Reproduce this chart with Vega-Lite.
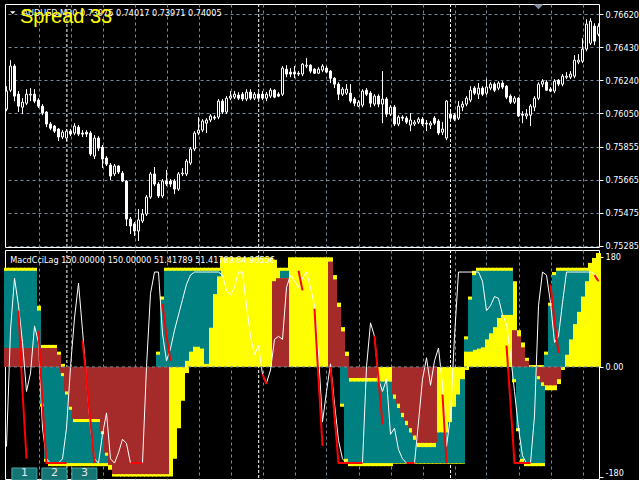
{
"$schema": "https://vega.github.io/schema/vega-lite/v6.json",
"background": "#000000",
"padding": {"left": 3, "top": 3, "right": 0, "bottom": 0},
"bounds": "flush",
"spacing": 3,
"config": {
  "view": {"stroke": "#ffffff", "strokeWidth": 1},
  "scale": {"continuousPadding": 0},
  "axis": {"labelFont": "DejaVu Sans Condensed, DejaVu Sans, sans-serif", "labelFontSize": 9, "labelColor": "#ffffff", "tickColor": "#ffffff", "domain": false, "title": null, "gridColor": "#778899", "gridDash": [3, 3], "gridWidth": 1, "gridOpacity": 1, "labelOverlap": false}
},
"datasets": {
"sep": [{"s": 16.1}, {"s": 64.05}, {"s": 112}],
"btn": [{"t": "1", "x1": 2.35, "x2": 8.6, "xm": 5.5}, {"t": "2", "x1": 9.85, "x2": 16.1, "xm": 13}, {"t": "3", "x1": 17.35, "x2": 23.6, "xm": 20.5}],
"d": [
{"i":1,"o":0.76073,"c":0.76177,"h":0.76205,"l":0.76061,"yl":0,"yh":162,"ta":31,"tb":157,"ba":0,"bb":31,"w":-130},
{"i":2,"o":0.76182,"c":0.76321,"h":0.76355,"l":0.76171,"yl":0,"yh":162,"ta":31,"tb":157,"ba":0,"bb":31,"w":60},
{"i":3,"o":0.76321,"c":0.76148,"h":0.76332,"l":0.76119,"yl":0,"yh":162,"ta":31,"tb":157,"ba":0,"bb":31,"w":145},
{"i":4,"o":0.76159,"c":0.76090,"h":0.76177,"l":0.76056,"yl":0,"yh":162,"ta":31,"tb":157,"ba":0,"bb":31,"w":100,"r":92},
{"i":5,"o":0.76084,"c":0.76113,"h":0.76136,"l":0.76044,"yl":0,"yh":162,"ta":31,"tb":157,"ba":0,"bb":31,"w":40,"r":-40},
{"i":6,"o":0.76107,"c":0.76159,"h":0.76188,"l":0.76096,"yl":0,"yh":162,"ta":31,"tb":157,"ba":0,"bb":31,"w":-40,"r":-150},
{"i":7,"o":0.76154,"c":0.76159,"h":0.76194,"l":0.76119,"yl":0,"yh":162,"ta":31,"tb":157,"ba":0,"bb":31,"w":-10},
{"i":8,"o":0.76159,"c":0.76119,"h":0.76188,"l":0.76107,"yl":0,"yh":162,"ta":31,"tb":157,"ba":0,"bb":31,"w":67},
{"i":9,"o":0.76125,"c":0.76090,"h":0.76136,"l":0.76079,"yl":0,"yh":100,"ta":31,"tb":92,"ba":0,"bb":31,"w":40,"r":59},
{"i":10,"o":0.76090,"c":0.76050,"h":0.76102,"l":0.76038,"yl":-65,"yh":36,"ba":0,"bb":31,"tc":-60,"td":0,"w":-100,"r":-60},
{"i":11,"o":0.76056,"c":0.75987,"h":0.76061,"l":0.75969,"yl":-155,"yh":36,"ba":0,"bb":31,"tc":-150,"td":0,"w":-150,"r":-157},
{"i":12,"o":0.75987,"c":0.75963,"h":0.75998,"l":0.75952,"yl":-162,"yh":36,"ba":0,"bb":31,"tc":-157,"td":0,"w":-157,"r":-157},
{"i":13,"o":0.75975,"c":0.75946,"h":0.75981,"l":0.75935,"yl":-162,"yh":36,"ba":0,"bb":31,"tc":-157,"td":0,"w":-157,"r":-157},
{"i":14,"o":0.75958,"c":0.75912,"h":0.75963,"l":0.75889,"yl":-162,"yh":25,"ba":0,"bb":20,"tc":-157,"td":0,"w":-157,"r":-157},
{"i":15,"o":0.75912,"c":0.75940,"h":0.75952,"l":0.75900,"yl":-162,"yh":5,"bc":-10,"bd":0,"tc":-157,"td":-15,"w":-150,"r":-157},
{"i":16,"o":0.75906,"c":0.75946,"h":0.75958,"l":0.75889,"yl":-162,"yh":0,"bc":-40,"bd":0,"tc":-157,"td":-45,"w":-100,"r":-157},
{"i":17,"o":0.75946,"c":0.75929,"h":0.75958,"l":0.75917,"yl":-162,"yh":0,"bc":-65,"bd":0,"tc":-157,"td":-70,"w":0},
{"i":18,"o":0.75935,"c":0.75975,"h":0.75992,"l":0.75923,"yl":-162,"yh":0,"bc":-85,"bd":0,"tc":-157,"td":-90,"w":80},
{"i":19,"o":0.75969,"c":0.75929,"h":0.75981,"l":0.75917,"yl":-162,"yh":0,"bc":-85,"bd":0,"tc":-157,"td":-90,"w":137},
{"i":20,"o":0.75935,"c":0.75929,"h":0.75952,"l":0.75912,"yl":-162,"yh":0,"bc":-85,"bd":0,"tc":-157,"td":-90,"w":60,"r":43},
{"i":21,"o":0.75940,"c":0.75929,"h":0.75952,"l":0.75912,"yl":-162,"yh":0,"bc":-85,"bd":0,"tc":-157,"td":-90,"w":-20,"r":-20},
{"i":22,"o":0.75935,"c":0.75814,"h":0.75946,"l":0.75802,"yl":-162,"yh":0,"bc":-85,"bd":0,"tc":-157,"td":-90,"w":-100,"r":-90},
{"i":23,"o":0.75802,"c":0.75906,"h":0.75923,"l":0.75785,"yl":-162,"yh":0,"bc":-85,"bd":0,"tc":-157,"td":-90,"w":-150,"r":-157},
{"i":24,"o":0.75906,"c":0.75848,"h":0.75917,"l":0.75831,"yl":-162,"yh":0,"bc":-85,"bd":0,"tc":-157,"td":-90,"w":-157},
{"i":25,"o":0.75854,"c":0.75785,"h":0.75866,"l":0.75733,"yl":-162,"yh":0,"bc":-105,"bd":0,"tc":-157,"td":-110,"w":-110},
{"i":26,"o":0.75791,"c":0.75756,"h":0.75802,"l":0.75745,"yl":-162,"yh":0,"bc":-140,"bd":0,"tc":-157,"td":-145,"w":-75},
{"i":27,"o":0.75750,"c":0.75687,"h":0.75762,"l":0.75664,"yl":-168,"yh":0,"bc":-160,"bd":0,"w":-150},
{"i":28,"o":0.75699,"c":0.75745,"h":0.75756,"l":0.75687,"yl":-179,"yh":0,"bc":-175,"bd":0,"w":-157},
{"i":29,"o":0.75745,"c":0.75710,"h":0.75750,"l":0.75699,"yl":-179,"yh":0,"bc":-175,"bd":0,"w":-140},
{"i":30,"o":0.75704,"c":0.75658,"h":0.75716,"l":0.75652,"yl":-179,"yh":0,"bc":-175,"bd":0,"w":-118},
{"i":31,"o":0.75658,"c":0.75439,"h":0.75664,"l":0.75399,"yl":-179,"yh":0,"bc":-175,"bd":0,"w":-125},
{"i":32,"o":0.75439,"c":0.75399,"h":0.75451,"l":0.75353,"yl":-179,"yh":0,"bc":-175,"bd":0,"w":-157,"r":-157},
{"i":33,"o":0.75411,"c":0.75370,"h":0.75422,"l":0.75341,"yl":-179,"yh":0,"bc":-175,"bd":0,"w":-157,"r":-157},
{"i":34,"o":0.75370,"c":0.75434,"h":0.75497,"l":0.75313,"yl":-179,"yh":0,"bc":-175,"bd":0,"w":-157,"r":-157},
{"i":35,"o":0.75428,"c":0.75468,"h":0.75497,"l":0.75416,"yl":-179,"yh":0,"bc":-175,"bd":0,"w":-157,"r":-157},
{"i":36,"o":0.75468,"c":0.75566,"h":0.75578,"l":0.75457,"yl":-179,"yh":0,"bc":-175,"bd":0,"w":0},
{"i":37,"o":0.75566,"c":0.75699,"h":0.75710,"l":0.75555,"yl":-179,"yh":0,"bc":-175,"bd":0,"w":120},
{"i":38,"o":0.75699,"c":0.75641,"h":0.75739,"l":0.75629,"yl":-179,"yh":0,"bc":-175,"bd":0,"w":155},
{"i":39,"o":0.75641,"c":0.75572,"h":0.75652,"l":0.75560,"yl":-179,"yh":25,"bc":-175,"bd":0,"ta":0,"tb":20,"w":155},
{"i":40,"o":0.75572,"c":0.75658,"h":0.75670,"l":0.75560,"yl":-179,"yh":115,"bc":-175,"bd":0,"ta":0,"tb":110,"w":54,"r":103},
{"i":41,"o":0.75658,"c":0.75641,"h":0.75722,"l":0.75629,"yl":-179,"yh":162,"bc":-175,"bd":0,"ta":0,"tb":157,"w":10,"r":50},
{"i":42,"o":0.75658,"c":0.75641,"h":0.75670,"l":0.75624,"yl":-179,"yh":162,"ta":0,"tb":157,"w":30,"r":10},
{"i":43,"o":0.75658,"c":0.75612,"h":0.75670,"l":0.75583,"yl":-150,"yh":162,"ta":0,"tb":157,"w":60},
{"i":44,"o":0.75612,"c":0.75699,"h":0.75710,"l":0.75601,"yl":-100,"yh":162,"ta":0,"tb":157,"w":85},
{"i":45,"o":0.75699,"c":0.75704,"h":0.75733,"l":0.75687,"yl":-55,"yh":162,"ta":0,"tb":157,"w":110},
{"i":46,"o":0.75699,"c":0.75773,"h":0.75785,"l":0.75687,"yl":-10,"yh":162,"ta":10,"tb":157,"w":135},
{"i":47,"o":0.75762,"c":0.75843,"h":0.75854,"l":0.75750,"yl":0,"yh":162,"ta":25,"tb":157,"w":150},
{"i":48,"o":0.75843,"c":0.75935,"h":0.75946,"l":0.75831,"yl":0,"yh":162,"ta":33,"tb":157,"w":155},
{"i":49,"o":0.75935,"c":0.75952,"h":0.76027,"l":0.75923,"yl":0,"yh":162,"ta":33,"tb":157,"w":155},
{"i":50,"o":0.75952,"c":0.76004,"h":0.76015,"l":0.75940,"yl":0,"yh":162,"ta":30,"tb":157,"w":155},
{"i":51,"o":0.75992,"c":0.76010,"h":0.76021,"l":0.75935,"yl":0,"yh":162,"ta":5,"tb":157,"w":155},
{"i":52,"o":0.76010,"c":0.76033,"h":0.76044,"l":0.75998,"yl":0,"yh":162,"ta":64,"tb":157,"w":155},
{"i":53,"o":0.76027,"c":0.76021,"h":0.76038,"l":0.76010,"yl":0,"yh":162,"ta":119,"tb":157,"w":155},
{"i":54,"o":0.76027,"c":0.76119,"h":0.76131,"l":0.76015,"yl":0,"yh":162,"ta":148,"tb":157,"w":155},
{"i":55,"o":0.76119,"c":0.76056,"h":0.76131,"l":0.76044,"yl":0,"yh":179,"w":150},
{"i":56,"o":0.76056,"c":0.76136,"h":0.76148,"l":0.76044,"yl":0,"yh":179,"w":125},
{"i":57,"o":0.76136,"c":0.76148,"h":0.76177,"l":0.76125,"yl":0,"yh":179,"w":118},
{"i":58,"o":0.76142,"c":0.76159,"h":0.76177,"l":0.76131,"yl":0,"yh":179,"w":130},
{"i":59,"o":0.76154,"c":0.76136,"h":0.76171,"l":0.76125,"yl":0,"yh":179,"w":155},
{"i":60,"o":0.76159,"c":0.76131,"h":0.76171,"l":0.76119,"yl":0,"yh":179,"w":155},
{"i":61,"o":0.76131,"c":0.76171,"h":0.76188,"l":0.76119,"yl":0,"yh":179,"w":100},
{"i":62,"o":0.76171,"c":0.76136,"h":0.76188,"l":0.76125,"yl":0,"yh":179,"w":50},
{"i":63,"o":0.76136,"c":0.76159,"h":0.76171,"l":0.76125,"yl":0,"yh":179,"w":20},
{"i":64,"o":0.76159,"c":0.76136,"h":0.76171,"l":0.76125,"yl":0,"yh":179,"w":35},
{"i":65,"o":0.76159,"c":0.76136,"h":0.76177,"l":0.76125,"yl":0,"yh":179,"w":-12,"r":-12},
{"i":66,"o":0.76136,"c":0.76159,"h":0.76171,"l":0.76119,"yl":0,"yh":179,"w":-26,"r":-28},
{"i":67,"o":0.76148,"c":0.76182,"h":0.76194,"l":0.76136,"yl":0,"yh":179,"w":-5},
{"i":68,"o":0.76182,"c":0.76142,"h":0.76188,"l":0.76136,"yl":0,"yh":175,"ba":0,"bb":140,"w":45},
{"i":69,"o":0.76159,"c":0.76148,"h":0.76171,"l":0.76142,"yl":0,"yh":162,"ba":0,"bb":145,"w":50},
{"i":70,"o":0.76159,"c":0.76309,"h":0.76321,"l":0.76148,"yl":0,"yh":162,"ta":145,"tb":157,"ba":0,"bb":145,"w":45},
{"i":71,"o":0.76303,"c":0.76275,"h":0.76326,"l":0.76257,"yl":0,"yh":162,"ta":145,"tb":157,"ba":0,"bb":145,"w":130},
{"i":72,"o":0.76286,"c":0.76275,"h":0.76309,"l":0.76257,"yl":0,"yh":179,"w":150},
{"i":73,"o":0.76286,"c":0.76275,"h":0.76321,"l":0.76251,"yl":0,"yh":179,"w":140},
{"i":74,"o":0.76280,"c":0.76275,"h":0.76292,"l":0.76263,"yl":0,"yh":179,"w":130,"r":157},
{"i":75,"o":0.76275,"c":0.76332,"h":0.76338,"l":0.76263,"yl":0,"yh":179,"w":145,"r":125},
{"i":76,"o":0.76321,"c":0.76326,"h":0.76367,"l":0.76309,"yl":0,"yh":179,"w":155},
{"i":77,"o":0.76326,"c":0.76292,"h":0.76332,"l":0.76280,"yl":0,"yh":179,"w":130},
{"i":78,"o":0.76303,"c":0.76280,"h":0.76309,"l":0.76275,"yl":0,"yh":179,"w":100,"r":95},
{"i":79,"o":0.76280,"c":0.76303,"h":0.76315,"l":0.76275,"yl":0,"yh":179,"w":20,"r":-20},
{"i":80,"o":0.76298,"c":0.76321,"h":0.76332,"l":0.76286,"yl":0,"yh":179,"w":-90,"r":-129},
{"i":81,"o":0.76309,"c":0.76286,"h":0.76321,"l":0.76280,"yl":0,"yh":179,"w":-40},
{"i":82,"o":0.76292,"c":0.76251,"h":0.76298,"l":0.76223,"yl":0,"yh":179,"ba":0,"bb":172,"w":5,"r":0},
{"i":83,"o":0.76251,"c":0.76217,"h":0.76257,"l":0.76194,"yl":0,"yh":150,"ba":0,"bb":143,"w":-60,"r":-80},
{"i":84,"o":0.76217,"c":0.76159,"h":0.76228,"l":0.76125,"yl":0,"yh":105,"ba":0,"bb":98,"w":-120,"r":-157},
{"i":85,"o":0.76159,"c":0.76188,"h":0.76200,"l":0.76148,"yl":-65,"yh":65,"ba":0,"bb":58,"tc":-60,"td":0,"w":-150,"r":-157},
{"i":86,"o":0.76165,"c":0.76188,"h":0.76217,"l":0.76154,"yl":-155,"yh":25,"ba":0,"bb":18,"tc":-150,"td":0,"w":-157,"r":-157},
{"i":87,"o":0.76165,"c":0.76119,"h":0.76217,"l":0.76107,"yl":-162,"yh":0,"bc":-18,"bd":0,"tc":-157,"td":-24,"w":-157,"r":-157},
{"i":88,"o":0.76131,"c":0.76107,"h":0.76142,"l":0.76090,"yl":-162,"yh":0,"bc":-18,"bd":0,"tc":-157,"td":-24,"w":-157,"r":-157},
{"i":89,"o":0.76090,"c":0.76113,"h":0.76125,"l":0.76084,"yl":-162,"yh":0,"bc":-18,"bd":0,"tc":-157,"td":-24,"w":-157,"r":-157},
{"i":90,"o":0.76096,"c":0.76177,"h":0.76188,"l":0.76084,"yl":-162,"yh":0,"bc":-18,"bd":0,"tc":-157,"td":-24,"w":-157,"r":-157},
{"i":91,"o":0.76182,"c":0.76159,"h":0.76194,"l":0.76148,"yl":-162,"yh":0,"bc":-18,"bd":0,"tc":-157,"td":-24,"w":0},
{"i":92,"o":0.76165,"c":0.76107,"h":0.76177,"l":0.76084,"yl":-162,"yh":0,"bc":-18,"bd":0,"tc":-157,"td":-24,"w":72},
{"i":93,"o":0.76102,"c":0.76148,"h":0.76159,"l":0.76090,"yl":-162,"yh":0,"bc":-18,"bd":0,"tc":-157,"td":-24,"w":50,"r":51},
{"i":94,"o":0.76148,"c":0.76102,"h":0.76159,"l":0.76084,"yl":-162,"yh":0,"tc":-157,"td":-24,"w":-20,"r":-20},
{"i":95,"o":0.76102,"c":0.76131,"h":0.76292,"l":0.75992,"yl":-162,"yh":0,"tc":-157,"td":-24,"w":-40,"r":-94},
{"i":96,"o":0.76131,"c":0.76044,"h":0.76142,"l":0.76027,"yl":-162,"yh":0,"tc":-157,"td":-24,"w":-20},
{"i":97,"o":0.76044,"c":0.76084,"h":0.76096,"l":0.76033,"yl":-162,"yh":0,"tc":-157,"td":-24,"w":-110},
{"i":98,"o":0.76084,"c":0.75987,"h":0.76096,"l":0.75975,"yl":-158,"yh":0,"bc":-45,"bd":0,"tc":-157,"td":-52,"w":-100},
{"i":99,"o":0.75987,"c":0.76027,"h":0.76038,"l":0.75975,"yl":-158,"yh":0,"bc":-60,"bd":0,"tc":-157,"td":-67,"w":-135},
{"i":100,"o":0.76027,"c":0.76021,"h":0.76038,"l":0.76004,"yl":-158,"yh":0,"bc":-75,"bd":0,"tc":-157,"td":-82,"w":-150},
{"i":101,"o":0.76021,"c":0.75998,"h":0.76033,"l":0.75987,"yl":-158,"yh":0,"bc":-88,"bd":0,"tc":-157,"td":-95,"w":-157,"r":-157},
{"i":102,"o":0.75981,"c":0.76010,"h":0.76050,"l":0.75946,"yl":-158,"yh":0,"bc":-100,"bd":0,"tc":-157,"td":-107,"w":-157,"r":-157},
{"i":103,"o":0.75987,"c":0.75998,"h":0.76010,"l":0.75975,"yl":-158,"yh":0,"bc":-112,"bd":0,"tc":-157,"td":-119,"w":-157,"r":-157},
{"i":104,"o":0.75998,"c":0.76015,"h":0.76027,"l":0.75987,"yl":-158,"yh":0,"bc":-124,"bd":0,"tc":-157,"td":-131,"w":-90},
{"i":105,"o":0.76015,"c":0.75987,"h":0.76027,"l":0.75975,"yl":-158,"yh":0,"bc":-124,"bd":0,"tc":-157,"td":-131,"w":-20},
{"i":106,"o":0.75992,"c":0.75987,"h":0.76010,"l":0.75946,"yl":-158,"yh":0,"bc":-124,"bd":0,"tc":-157,"td":-131,"w":15},
{"i":107,"o":0.75981,"c":0.75992,"h":0.76004,"l":0.75958,"yl":-158,"yh":0,"bc":-124,"bd":0,"tc":-157,"td":-131,"w":-30},
{"i":108,"o":0.76021,"c":0.75992,"h":0.76033,"l":0.75981,"yl":-158,"yh":0,"bc":-124,"bd":0,"tc":-157,"td":-131,"w":10},
{"i":109,"o":0.76004,"c":0.75935,"h":0.76015,"l":0.75923,"yl":-158,"yh":0,"tc":-157,"td":-107,"w":31},
{"i":110,"o":0.75940,"c":0.75958,"h":0.75998,"l":0.75923,"yl":-158,"yh":0,"tc":-157,"td":-107,"w":-30,"r":-45},
{"i":111,"o":0.75906,"c":0.76119,"h":0.76125,"l":0.75894,"yl":-158,"yh":0,"tc":-157,"td":-107,"w":-130,"r":-157},
{"i":112,"o":0.76044,"c":0.76021,"h":0.76056,"l":0.76010,"yl":-158,"yh":0,"tc":-157,"td":-90,"w":-80},
{"i":113,"o":0.76038,"c":0.76015,"h":0.76050,"l":0.76004,"yl":-158,"yh":0,"tc":-157,"td":-65,"w":50},
{"i":114,"o":0.76021,"c":0.76090,"h":0.76119,"l":0.76010,"yl":-158,"yh":0,"tc":-157,"td":-45,"w":155},
{"i":115,"o":0.76084,"c":0.76102,"h":0.76119,"l":0.76061,"yl":-158,"yh":0,"tc":-157,"td":-20,"w":155},
{"i":116,"o":0.76102,"c":0.76136,"h":0.76148,"l":0.76090,"yl":-5,"yh":50,"ta":25,"tb":45,"w":155},
{"i":117,"o":0.76125,"c":0.76182,"h":0.76205,"l":0.76113,"yl":0,"yh":115,"ta":25,"tb":110,"w":155},
{"i":118,"o":0.76194,"c":0.76165,"h":0.76205,"l":0.76154,"yl":0,"yh":157,"ta":28,"tb":150,"w":155},
{"i":119,"o":0.76159,"c":0.76194,"h":0.76223,"l":0.76131,"yl":0,"yh":162,"ta":30,"tb":157,"w":155},
{"i":120,"o":0.76194,"c":0.76159,"h":0.76205,"l":0.76148,"yl":0,"yh":162,"ta":32,"tb":157,"w":140},
{"i":121,"o":0.76165,"c":0.76200,"h":0.76246,"l":0.76154,"yl":0,"yh":162,"ta":45,"tb":157,"w":92},
{"i":122,"o":0.76194,"c":0.76217,"h":0.76228,"l":0.76182,"yl":0,"yh":162,"ta":55,"tb":157,"w":100},
{"i":123,"o":0.76217,"c":0.76182,"h":0.76228,"l":0.76171,"yl":0,"yh":162,"ta":65,"tb":157,"w":115},
{"i":124,"o":0.76194,"c":0.76223,"h":0.76234,"l":0.76182,"yl":0,"yh":162,"ta":80,"tb":157,"w":112},
{"i":125,"o":0.76223,"c":0.76200,"h":0.76234,"l":0.76188,"yl":0,"yh":162,"ta":85,"tb":157,"w":85},
{"i":126,"o":0.76205,"c":0.76142,"h":0.76211,"l":0.76131,"yl":0,"yh":162,"ta":85,"tb":157,"w":70,"r":35},
{"i":127,"o":0.76148,"c":0.76113,"h":0.76159,"l":0.76102,"yl":0,"yh":162,"ta":85,"tb":157,"w":20,"r":-60},
{"i":128,"o":0.76113,"c":0.76136,"h":0.76148,"l":0.76102,"yl":-25,"yh":140,"ba":0,"bb":60,"tc":-20,"td":0,"w":-40,"r":-157},
{"i":129,"o":0.76136,"c":0.76033,"h":0.76142,"l":0.76027,"yl":-105,"yh":60,"ba":0,"bb":50,"tc":-100,"td":0,"w":-100,"r":-157},
{"i":130,"o":0.76044,"c":0.76038,"h":0.76061,"l":0.75992,"yl":-155,"yh":40,"ba":0,"bb":32,"tc":-150,"td":0,"w":-145,"r":-157},
{"i":131,"o":0.76033,"c":0.76044,"h":0.76073,"l":0.76015,"yl":-162,"yh":15,"ba":0,"bb":10,"tc":-157,"td":0,"w":-157,"r":-157},
{"i":132,"o":0.76038,"c":0.76090,"h":0.76102,"l":0.75975,"yl":-162,"yh":3,"tc":-157,"td":0,"w":-157,"r":-157},
{"i":133,"o":0.76084,"c":0.76136,"h":0.76148,"l":0.76061,"yl":-162,"yh":3,"tc":-157,"td":0,"w":-80},
{"i":134,"o":0.76136,"c":0.76217,"h":0.76228,"l":0.76125,"yl":-162,"yh":3,"bc":-15,"bd":0,"tc":-157,"td":-20,"w":100},
{"i":135,"o":0.76217,"c":0.76234,"h":0.76246,"l":0.76200,"yl":-162,"yh":3,"bc":-25,"bd":0,"tc":-157,"td":-31,"w":155},
{"i":136,"o":0.76228,"c":0.76182,"h":0.76240,"l":0.76177,"yl":-38,"yh":25,"bc":-30,"bd":0,"ta":0,"tb":20,"w":150},
{"i":137,"o":0.76188,"c":0.76177,"h":0.76200,"l":0.76171,"yl":-38,"yh":105,"bc":-30,"bd":0,"ta":0,"tb":100,"w":105,"r":135},
{"i":138,"o":0.76177,"c":0.76234,"h":0.76246,"l":0.76165,"yl":-38,"yh":155,"bc":-30,"bd":0,"ta":0,"tb":150,"w":40,"r":75},
{"i":139,"o":0.76240,"c":0.76217,"h":0.76246,"l":0.76205,"yl":-28,"yh":162,"bc":-20,"bd":0,"ta":0,"tb":157,"w":50,"r":23},
{"i":140,"o":0.76217,"c":0.76263,"h":0.76275,"l":0.76205,"yl":-5,"yh":162,"ta":0,"tb":157,"w":105},
{"i":141,"o":0.76257,"c":0.76263,"h":0.76286,"l":0.76246,"yl":0,"yh":162,"ta":20,"tb":157,"w":155},
{"i":142,"o":0.76257,"c":0.76275,"h":0.76292,"l":0.76246,"yl":0,"yh":162,"ta":45,"tb":157,"w":155},
{"i":143,"o":0.76263,"c":0.76355,"h":0.76384,"l":0.76251,"yl":0,"yh":162,"ta":70,"tb":157,"w":155},
{"i":144,"o":0.76344,"c":0.76355,"h":0.76390,"l":0.76332,"yl":0,"yh":162,"ta":90,"tb":157,"w":155},
{"i":145,"o":0.76349,"c":0.76419,"h":0.76482,"l":0.76338,"yl":0,"yh":162,"ta":115,"tb":157,"w":155},
{"i":146,"o":0.76419,"c":0.76563,"h":0.76591,"l":0.76407,"yl":0,"yh":162,"ta":140,"tb":157,"w":155},
{"i":147,"o":0.76453,"c":0.76580,"h":0.76597,"l":0.76442,"yl":0,"yh":170,"w":155},
{"i":148,"o":0.76551,"c":0.76465,"h":0.76568,"l":0.76442,"yl":0,"yh":178,"w":152,"r":150},
{"i":149,"o":0.76505,"c":0.76551,"h":0.76568,"l":0.76493,"yl":0,"yh":186,"w":145,"r":140}
]
},
"vconcat": [
{
  "width": 594,
  "height": 243,
  "layer": [
    {"data": {"name": "sep"}, "mark": {"type": "rule", "color": "#ffffff", "strokeDash": [3, 2], "strokeWidth": 1},
     "encoding": {"x": {"field": "s", "type": "quantitative", "scale": {"domain": [0.625, 149.125], "nice": false, "zero": false, "padding": 0},
          "axis": {"orient": "bottom", "values": [9, 17, 25, 33, 41, 49, 57, 65, 73, 81, 89, 97, 105, 113, 121, 129, 137, 145], "tickCount": 40, "grid": true, "labels": false, "ticks": false}}}},
    {"data": {"name": "d"}, "mark": {"type": "rule", "color": "#ffffff", "strokeWidth": 1},
     "encoding": {
       "x": {"field": "i", "type": "quantitative", "scale": {"domain": [0.625, 149.125], "nice": false, "zero": false, "padding": 0}},
       "y": {"field": "l", "type": "quantitative", "scale": {"domain": [0.75278, 0.76679], "nice": false, "zero": false, "padding": 0},
             "axis": {"orient": "right", "values": [0.7662, 0.7643, 0.7624, 0.7605, 0.75855, 0.75665, 0.75475, 0.75285], "tickCount": 20, "format": ".5f", "grid": true, "tickSize": 4, "labelPadding": 2, "labelOverlap": false}},
       "y2": {"field": "h"}}},
    {"data": {"name": "d"}, "mark": {"type": "bar", "size": 2, "stroke": "#ffffff", "strokeWidth": 1},
     "encoding": {
       "x": {"field": "i", "type": "quantitative", "scale": {"domain": [0.625, 149.125], "nice": false, "zero": false, "padding": 0}},
       "y": {"field": "o", "type": "quantitative", "scale": {"domain": [0.75278, 0.76679], "nice": false, "zero": false, "padding": 0}},
       "y2": {"field": "c"},
       "fill": {"condition": {"test": "datum.c > datum.o", "value": "#000000"}, "value": "#ffffff"}}},
    {"data": {"values": [{"px": 134.0, "py": 0.76663}]}, "mark": {"type": "point", "shape": "M-1,-0.5L1,-0.5L0,0.5Z", "filled": true, "size": 100, "color": "#8090a4", "opacity": 1},
     "encoding": {"x": {"field": "px", "type": "quantitative"}, "y": {"field": "py", "type": "quantitative"}}},
    {"data": {"values": [{"px": 2.55, "py": 0.76629}]}, "mark": {"type": "point", "shape": "M-1,-0.5L1,-0.5L0,0.5Z", "filled": true, "size": 30, "color": "#ffffff", "opacity": 1},
     "encoding": {"x": {"field": "px", "type": "quantitative"}, "y": {"field": "py", "type": "quantitative"}}},
    {"data": {"values": [{"t": "AUDUSD,M30  0.73975 0.74017 0.73971 0.74005", "px": 5.0, "py": 0.7661}]},
     "mark": {"type": "text", "align": "left", "baseline": "alphabetic", "font": "DejaVu Sans Condensed, DejaVu Sans, sans-serif", "fontSize": 9, "color": "#ffffff"},
     "encoding": {"x": {"field": "px", "type": "quantitative"}, "y": {"field": "py", "type": "quantitative"}, "text": {"field": "t"}}},
    {"data": {"values": [{"t": "Spread 33", "px": 4.35, "py": 0.765666}]},
     "mark": {"type": "text", "align": "left", "baseline": "alphabetic", "font": "Liberation Sans, Arial, sans-serif", "fontSize": 20, "color": "#ffff00"},
     "encoding": {"x": {"field": "px", "type": "quantitative"}, "y": {"field": "py", "type": "quantitative"}, "text": {"field": "t"}}}
  ]
},
{
  "width": 594,
  "height": 229,
  "layer": [
    {"data": {"name": "sep"}, "mark": {"type": "rule", "color": "#ffffff", "strokeDash": [3, 2], "strokeWidth": 1},
     "encoding": {"x": {"field": "s", "type": "quantitative", "scale": {"domain": [0.625, 149.125], "nice": false, "zero": false, "padding": 0},
          "axis": {"orient": "bottom", "values": [9, 17, 25, 33, 41, 49, 57, 65, 73, 81, 89, 97, 105, 113, 121, 129, 137, 145], "tickCount": 40, "grid": true, "labels": false, "ticks": false}}}},
    {"data": {"name": "d"}, "mark": {"type": "bar", "size": 5, "color": "#ffff00"},
     "encoding": {
       "x": {"field": "i", "type": "quantitative", "scale": {"domain": [0.625, 149.125], "nice": false, "zero": false, "padding": 0}},
       "y": {"field": "yl", "type": "quantitative", "scale": {"domain": [-183, 191], "nice": false, "zero": false, "padding": 0},
             "axis": {"orient": "right", "values": [180, 0, -180], "labelExpr": "datum.value == 0 ? '0.00' : toString(datum.value)", "grid": false, "tickSize": 4, "labelPadding": 2, "labelFlush": 3}},
       "y2": {"field": "yh"}}},
    {"data": {"name": "d"}, "mark": {"type": "bar", "size": 5, "color": "#008080"},
     "encoding": {"x": {"field": "i", "type": "quantitative"}, "y": {"field": "ta", "type": "quantitative"}, "y2": {"field": "tb"}}},
    {"data": {"name": "d"}, "mark": {"type": "bar", "size": 5, "color": "#008080"},
     "encoding": {"x": {"field": "i", "type": "quantitative"}, "y": {"field": "tc", "type": "quantitative"}, "y2": {"field": "td"}}},
    {"data": {"name": "d"}, "mark": {"type": "bar", "size": 5, "color": "#a52a2a"},
     "encoding": {"x": {"field": "i", "type": "quantitative"}, "y": {"field": "ba", "type": "quantitative"}, "y2": {"field": "bb"}}},
    {"data": {"name": "d"}, "mark": {"type": "bar", "size": 5, "color": "#a52a2a"},
     "encoding": {"x": {"field": "i", "type": "quantitative"}, "y": {"field": "bc", "type": "quantitative"}, "y2": {"field": "bd"}}},
    {"data": {"name": "d"}, "mark": {"type": "line", "color": "#ffffff", "strokeWidth": 1},
     "encoding": {"x": {"field": "i", "type": "quantitative"}, "y": {"field": "w", "type": "quantitative"}}},
    {"data": {"name": "d"}, "mark": {"type": "line", "color": "#ff0000", "strokeWidth": 2},
     "encoding": {"x": {"field": "i", "type": "quantitative"}, "y": {"field": "r", "type": "quantitative"}}},
    {"data": {"values": [{"z": 0}]}, "mark": {"type": "rule", "color": "#778899", "strokeDash": [3, 3], "strokeWidth": 1},
     "encoding": {"y": {"field": "z", "type": "quantitative"}}},
    {"data": {"values": [{"t": "MacdCciLag 150.00000 150.00000 51.41789 51.41789 84.90556", "px": 1.925, "py": 169.8}]},
     "mark": {"type": "text", "align": "left", "baseline": "alphabetic", "font": "DejaVu Sans Condensed, DejaVu Sans, sans-serif", "fontSize": 9, "color": "#ffffff"},
     "encoding": {"x": {"field": "px", "type": "quantitative"}, "y": {"field": "py", "type": "quantitative"}, "text": {"field": "t"}}},
    {"data": {"name": "btn"}, "mark": {"type": "rect", "color": "#157575", "stroke": "#49a3a3", "strokeWidth": 1},
     "encoding": {"x": {"field": "x1", "type": "quantitative"}, "x2": {"field": "x2"}, "y": {"datum": -165, "type": "quantitative"}, "y2": {"datum": -185}}},
    {"data": {"name": "btn"}, "mark": {"type": "text", "align": "center", "baseline": "middle", "font": "DejaVu Sans, sans-serif", "fontSize": 11, "color": "#e8e8e8"},
     "encoding": {"x": {"field": "xm", "type": "quantitative"}, "y": {"datum": -173, "type": "quantitative"}, "text": {"field": "t"}}}
  ]
}
]
}
